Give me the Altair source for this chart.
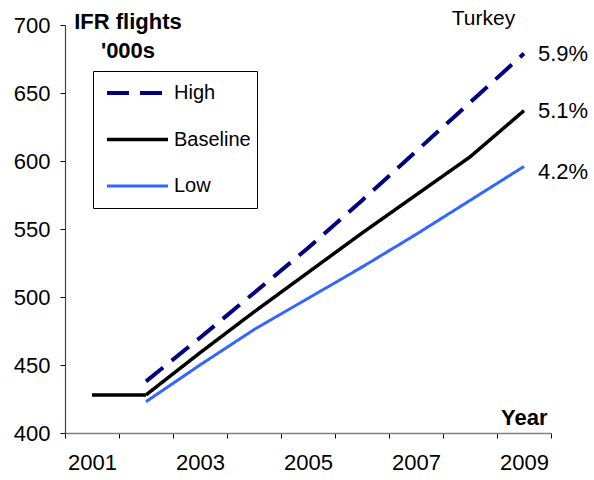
import altair as alt
import pandas as pd

# IFR flight forecast for Turkey, thousands of flights per year
years = list(range(2001, 2010))
baseline_values = [428, 428, 459, 489, 518, 547, 575, 603, 637]
scenario_years = list(range(2002, 2010))
high_values = [438, 470, 503, 536, 571, 607, 643, 679]
low_values = [423, 450, 476, 499, 522, 546, 571, 596]

series_names = ["High", "Baseline", "Low"]
growth_labels = ["5.9%", "5.1%", "4.2%"]
series_colors = ["#000080", "#000000", "#3366ff"]
series_dashes = [[22, 11], [1, 0], [1, 0]]
series_widths = [4, 3, 3]
y_ticks = [400, 450, 500, 550, 600, 650, 700]
country = ["Turkey"]

FONT = "Liberation Sans"

rows = []
for yr, v in zip(scenario_years, high_values):
    rows.append({"Year": yr, "Series": "High", "Value": v})
for yr, v in zip(years, baseline_values):
    rows.append({"Year": yr, "Series": "Baseline", "Value": v})
for yr, v in zip(scenario_years, low_values):
    rows.append({"Year": yr, "Series": "Low", "Value": v})
df = pd.DataFrame(rows)

end_values = [high_values[-1], baseline_values[-1], low_values[-1]]
ends = pd.DataFrame({
    "Year": [years[-1]] * 3,
    "Series": series_names,
    "Value": end_values,
    "Label": growth_labels,
})

legend = alt.Legend(
    title=None,
    orient="none",
    legendX=28,
    legendY=46,
)

x_enc = alt.X(
    "Year:O",
    bandPosition=0.5,
    scale=alt.Scale(type="band", domain=years, paddingInner=0, paddingOuter=0),
    axis=alt.Axis(
        title="Year",
        titleFont=FONT,
        titleFontSize=22,
        titleFontWeight="bold",
        titleColor="#000",
        titleAngle=0,
        titleAlign="right",
        titleBaseline="alphabetic",
        titleX=482,
        titleY=-9,
        labelExpr="datum.value % 2 == 1 ? datum.label : ''",
        labelAngle=0,
        labelFont=FONT,
        labelFontSize=22,
        labelColor="#000",
        labelPadding=14,
        labelOverlap=False,
        tickBand="extent",
        tickSize=5,
        tickColor="#000",
        domainColor="#808080",
        domainWidth=1.5,
        grid=False,
    ),
)

y_enc = alt.Y(
    "Value:Q",
    scale=alt.Scale(domain=[400, 700], nice=False, zero=False),
    axis=alt.Axis(
        title=["IFR flights", "'000s"],
        titleFont=FONT,
        titleFontSize=22,
        titleFontWeight="bold",
        titleColor="#000",
        titleAngle=0,
        titleAlign="center",
        titleBaseline="alphabetic",
        titleX=62.5,
        titleY=3,
        titleLineHeight=29,
        values=y_ticks,
        labelFont=FONT,
        labelFontSize=22,
        labelColor="#000",
        labelPadding=10,
        tickSize=5,
        tickColor="#000",
        domainColor="#444",
        domainWidth=1.2,
        grid=False,
    ),
)

lines = alt.Chart(df).mark_line(strokeCap="butt").encode(
    x=x_enc,
    y=y_enc,
    color=alt.Color("Series:N", scale=alt.Scale(domain=series_names, range=series_colors), legend=legend),
    strokeDash=alt.StrokeDash("Series:N", scale=alt.Scale(domain=series_names, range=series_dashes), legend=legend),
    strokeWidth=alt.StrokeWidth("Series:N", scale=alt.Scale(domain=series_names, range=series_widths), legend=legend),
)

label_style = dict(align="left", baseline="middle", dx=14, font=FONT, fontSize=22, color="#000")

upper_labels = alt.Chart(ends[ends["Series"] != "Low"]).mark_text(**label_style).encode(
    x=alt.X("Year:O", bandPosition=0.5),
    y="Value:Q",
    text="Label:N",
)
lower_labels = alt.Chart(ends[ends["Series"] == "Low"]).mark_text(dy=6, **label_style).encode(
    x=alt.X("Year:O", bandPosition=0.5),
    y="Value:Q",
    text="Label:N",
)

country_label = alt.Chart(pd.DataFrame({"name": country})).mark_text(
    align="center", baseline="alphabetic", font=FONT, fontSize=21, color="#000"
).encode(
    x=alt.value(418.5),
    y=alt.value(0),
    text="name:N",
)

chart = alt.layer(lines, upper_labels, lower_labels, country_label).properties(
    width=486,
    height=408,
    autosize=alt.AutoSizeParams(type="none"),
    padding={"left": 65, "top": 25, "right": 43, "bottom": 47},
    background="white",
).configure_view(
    stroke=None
).configure_legend(
    strokeColor="#000",
    fillColor="white",
    padding=6,
    symbolOffset=6,
    symbolType="stroke",
    symbolSize=3721,
    clipHeight=32,
    rowPadding=14.5,
    labelOffset=4,
    labelFont=FONT,
    labelFontSize=20,
    labelColor="#000",
)

chart.save("out.html", embed_options={"renderer": "svg", "actions": False})
